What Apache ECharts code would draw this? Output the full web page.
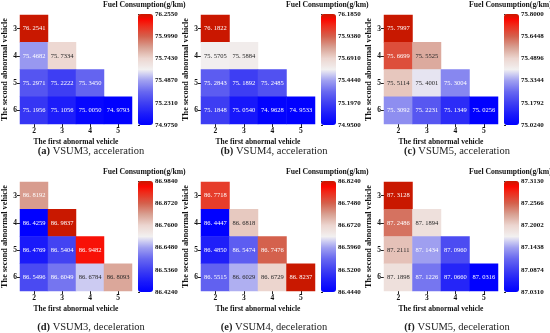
<!DOCTYPE html>
<html><head><meta charset="utf-8">
<script src="https://cdn.jsdelivr.net/npm/echarts@6/dist/echarts.min.js"></script>
<style>html,body{margin:0;padding:0;background:#fff}#c{width:550px;height:333px}</style>
</head><body><div id="c"></div>
<script>
// ---- data ----
const firstVehicle = ['2', '3', '4', '5'];
const secondVehicle = ['3', '4', '5', '6'];

const vsum3Acc = [[76.2541], [75.4682, 75.7334], [75.2971, 75.2222, 75.3450], [75.1956, 75.1056, 75.0050, 74.9793]];
const vsum4Acc = [[76.1822], [75.5705, 75.5884], [75.2843, 75.1892, 75.2485], [75.1848, 75.0540, 74.9628, 74.9533]];
const vsum5Acc = [[75.7997], [75.6699, 75.5525], [75.5114, 75.4001, 75.3004], [75.3092, 75.2231, 75.1349, 75.0256]];
const vsum3Dec = [[86.8192], [86.4259, 86.9837], [86.4769, 86.5404, 86.9482], [86.5496, 86.6049, 86.6784, 86.8093]];
const vsum4Dec = [[86.7718], [86.4447, 86.6818], [86.4850, 86.5474, 86.7476], [86.5515, 86.6029, 86.6729, 86.8237]];
const vsum5Dec = [[87.3128], [87.2486, 87.1894], [87.2111, 87.1434, 87.0960], [87.1898, 87.1226, 87.0660, 87.0316]];

const vsum3AccTicks = ['74.9750', '75.2310', '75.4870', '75.7430', '75.9990', '76.2550'];
const vsum4AccTicks = ['74.9500', '75.1970', '75.4440', '75.6910', '75.9380', '76.1850'];
const vsum5AccTicks = ['75.0240', '75.1792', '75.3344', '75.4896', '75.6448', '75.8000'];
const vsum3DecTicks = ['86.4240', '86.5360', '86.6480', '86.7600', '86.8720', '86.9840'];
const vsum4DecTicks = ['86.4440', '86.5200', '86.5960', '86.6720', '86.7480', '86.8240'];
const vsum5DecTicks = ['87.0310', '87.0874', '87.1438', '87.2002', '87.2566', '87.3130'];

const captionLetters = ['(a)', '(b)', '(c)', '(d)', '(e)', '(f)'];
const captionTexts = ['VSUM3, acceleration', 'VSUM4, acceleration', 'VSUM5, acceleration',
                      'VSUM3, deceleration', 'VSUM4, deceleration', 'VSUM5, deceleration'];
const colorbarTitle = 'Fuel Consumption(g/km)';
const xName = 'The first abnormal vehicle';
const yName = 'The second abnormal vehicle';

// ---- styles ----
const cmapStops = [[0, '#0000ff'], [0.1, '#1c1cfa'], [0.2, '#4040f2'], [0.3, '#6868f0'], [0.4, '#a0a0f0'],
  [0.45, '#c8c8f2'], [0.5, '#f2f0f0'], [0.6, '#ecd6d0'], [0.7, '#d8a092'], [0.8, '#d4604c'], [0.9, '#f02818'],
  [0.95, '#fa0800'], [1, '#c81800']];
const SERIF = 'Liberation Serif';

function hex2rgb(h) { return [1, 3, 5].map(i => parseInt(h.substr(i, 2), 16)); }
function cmap(t) {
  t = Math.max(0, Math.min(1, t));
  for (let i = 1; i < cmapStops.length; i++) {
    if (t <= cmapStops[i][0]) {
      const [t0, c0] = cmapStops[i - 1], [t1, c1] = cmapStops[i];
      const f = (t - t0) / (t1 - t0), a = hex2rgb(c0), b = hex2rgb(c1);
      return a.map((v, k) => Math.round(v + (b[k] - v) * f));
    }
  }
  return hex2rgb(cmapStops[cmapStops.length - 1][1]);
}
function toHex(c) { return '#' + c.map(v => v.toString(16).padStart(2, '0')).join(''); }
function lum(c) {
  const l = c.map(v => { v /= 255; return v <= 0.03928 ? v / 12.92 : Math.pow((v + 0.055) / 1.055, 2.4); });
  return 0.2126 * l[0] + 0.7152 * l[1] + 0.0722 * l[2];
}
const sampled = [];
for (let i = 0; i <= 80; i++) sampled.push(toHex(cmap(i / 80)));

const panels = [
  [vsum3Acc, vsum3AccTicks], [vsum4Acc, vsum4AccTicks], [vsum5Acc, vsum5AccTicks],
  [vsum3Dec, vsum3DecTicks], [vsum4Dec, vsum4DecTicks], [vsum5Dec, vsum5DecTicks]
];

const colX = [0, 183, 366];
const rowTop = [15, 182];
const gridH = 109, gridW = 114;

const option = { animation: false, grid: [], xAxis: [], yAxis: [], series: [], visualMap: [], title: [] };

panels.forEach(([matrix, ticks], i) => {
  const col = i % 3, row = Math.floor(i / 3);
  const ox = colX[col], top = rowTop[row];
  const vmin = parseFloat(ticks[0]), vmax = parseFloat(ticks[ticks.length - 1]);
  const data = [];
  matrix.forEach((rowVals, r) => rowVals.forEach((v, c) => {
    const rgb = cmap((v - vmin) / (vmax - vmin));
    data.push({ value: [c, r, v], label: { color: lum(rgb) > 0.408 ? '#262626' : '#ffffff' } });
  }));
  const g = option.grid.length;
  option.grid.push({ left: ox + 18, top: top, width: gridW, height: gridH });
  option.xAxis.push({
    type: 'category', gridIndex: g, data: firstVehicle, position: 'bottom',
    axisLine: { show: false }, axisTick: { show: true, alignWithLabel: true, length: 3, lineStyle: { color: '#222' } },
    axisLabel: { margin: 3, fontFamily: SERIF, fontWeight: 'bold', fontSize: 7.5, color: '#111' },
    name: xName, nameLocation: 'middle', nameGap: 14,
    nameTextStyle: { fontFamily: SERIF, fontWeight: 'bold', fontSize: 7.5, color: '#111' },
    splitLine: { show: false }
  });
  option.yAxis.push({
    type: 'category', gridIndex: g, data: secondVehicle, inverse: true,
    axisLine: { show: false }, axisTick: { show: true, alignWithLabel: true, length: 3, lineStyle: { color: '#222' } },
    axisLabel: { margin: 3, fontFamily: SERIF, fontWeight: 'bold', fontSize: 7.5, color: '#111' },
    name: yName, nameLocation: 'middle', nameGap: 11,
    nameTextStyle: { fontFamily: SERIF, fontWeight: 'bold', fontSize: 8.3, color: '#111' },
    splitLine: { show: false }
  });
  const si = option.series.length;
  option.series.push({
    type: 'heatmap', xAxisIndex: g, yAxisIndex: g, data: data,
    label: { show: true, fontFamily: SERIF, fontSize: 6.5,
      formatter: p => p.value[2].toFixed(4).replace('.', '. ') },
    itemStyle: { borderWidth: 0 }, emphasis: { disabled: true }
  });
  option.visualMap.push({
    type: 'continuous', seriesIndex: si, min: vmin, max: vmax, calculable: false,
    orient: 'vertical', left: ox + 138, top: top - 1, itemWidth: 15, itemHeight: 111,
    padding: 0, text: null, showLabel: false, hoverLink: false,
    inRange: { color: sampled }
  });
  // colorbar tick axis
  const g2 = option.grid.length;
  option.grid.push({ left: ox + 138, top: top - 1, width: 15, height: 111 });
  option.xAxis.push({ type: 'value', gridIndex: g2, show: false });
  option.yAxis.push({
    type: 'category', gridIndex: g2, data: ticks, boundaryGap: false, position: 'right',
    axisLine: { show: false }, axisTick: { show: true, length: 2, lineStyle: { color: '#222' } },
    axisLabel: { margin: 2, fontFamily: SERIF, fontWeight: 'bold', fontSize: 7, color: '#111' },
    splitLine: { show: false }
  });
  option.title.push({
    text: colorbarTitle, left: ox + 103, top: top - 14,
    textStyle: { fontFamily: SERIF, fontWeight: 'bold', fontSize: 7.7, color: '#111' }, padding: 0
  });
  option.title.push({
    text: '{b|' + captionLetters[i] + '} ' + captionTexts[i],
    left: ox + 91, top: row === 0 ? 146 : 322, textAlign: 'center', padding: 0,
    textStyle: { fontFamily: SERIF, fontSize: 10.5, fontWeight: 'normal', color: '#222',
      rich: { b: { fontFamily: SERIF, fontSize: 10.5, fontWeight: 'bold', color: '#222' } } }
  });
});

const chart = echarts.init(document.getElementById('c'), null, { renderer: 'canvas' });
chart.setOption(option);
</script>
</body></html>
